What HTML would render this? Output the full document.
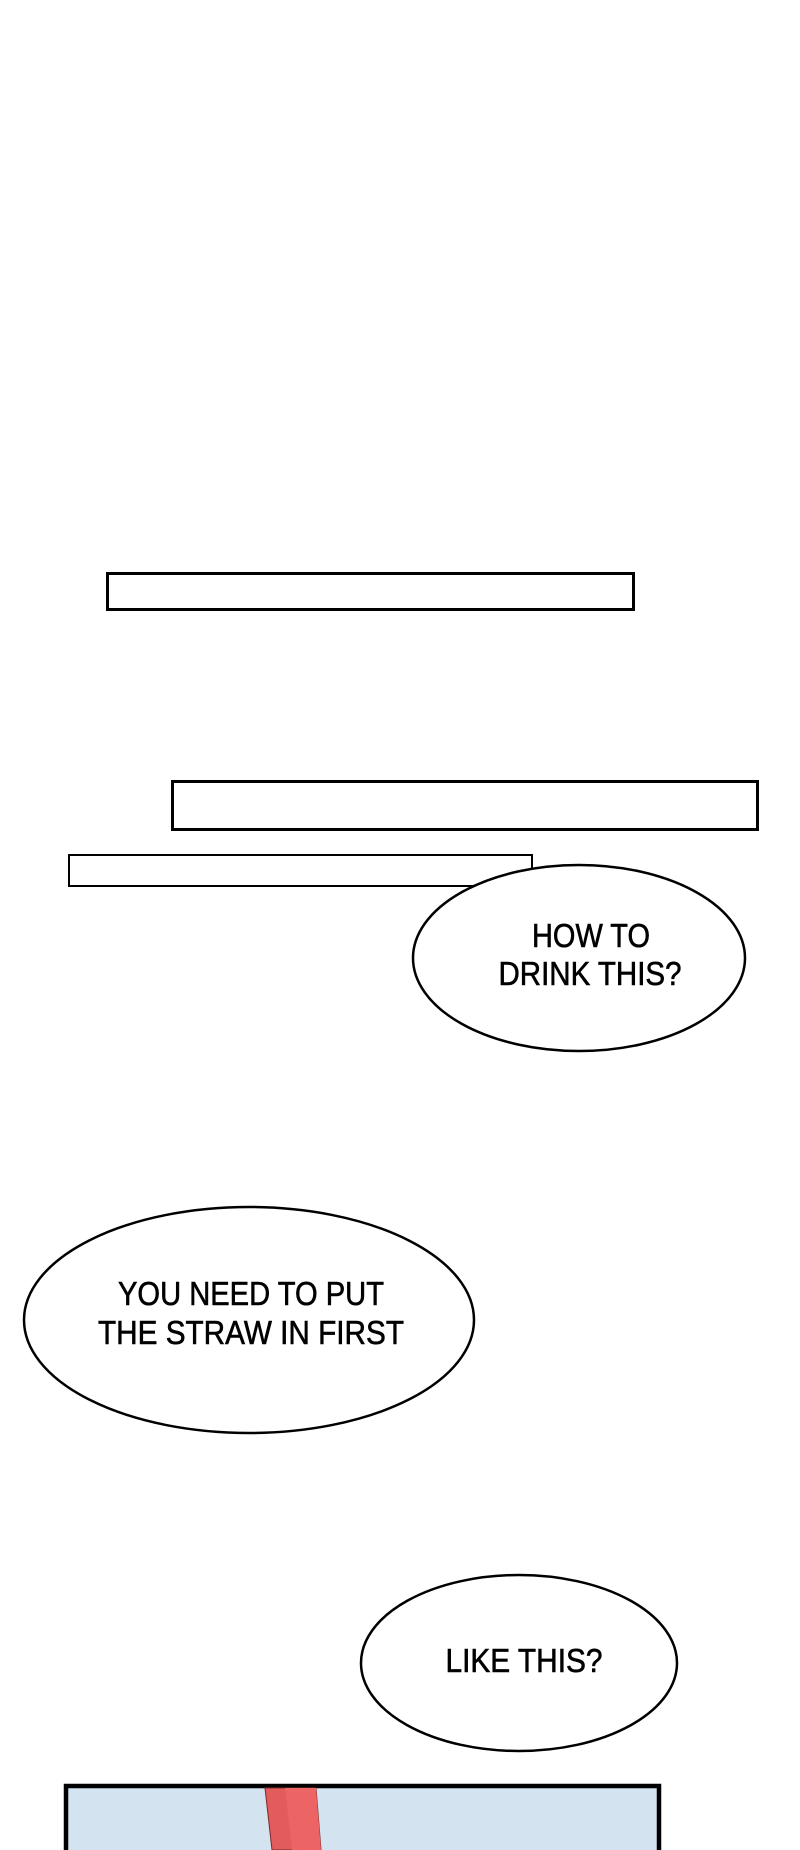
<!DOCTYPE html>
<html><head><meta charset="utf-8"><style>
html,body{margin:0;padding:0;background:#fff;}
svg{display:block;}
text{font-family:"Liberation Sans",sans-serif;fill:#000;stroke:#000;stroke-width:0.6;}
</style></head><body>
<svg width="800" height="1850" viewBox="0 0 800 1850" xmlns="http://www.w3.org/2000/svg">
<rect width="800" height="1850" fill="#fff"/>
<rect x="107.5" y="573.5" width="526" height="36" fill="#fff" stroke="#000" stroke-width="3"/>
<rect x="172.5" y="781.5" width="585" height="48" fill="#fff" stroke="#000" stroke-width="3"/>
<rect x="69" y="855" width="463" height="31" fill="#fff" stroke="#000" stroke-width="2"/>
<ellipse cx="579" cy="958" rx="166" ry="93" fill="#fff" stroke="#000" stroke-width="2.5"/>
<text x="591" y="947" font-size="33" text-anchor="middle" textLength="118" lengthAdjust="spacingAndGlyphs">HOW TO</text>
<text x="590" y="985" font-size="33" text-anchor="middle" textLength="183" lengthAdjust="spacingAndGlyphs">DRINK THIS?</text>
<ellipse cx="249" cy="1320" rx="225" ry="113" fill="#fff" stroke="#000" stroke-width="2.5"/>
<text x="251" y="1305" font-size="33" text-anchor="middle" textLength="266" lengthAdjust="spacingAndGlyphs">YOU NEED TO PUT</text>
<text x="251" y="1344" font-size="33" text-anchor="middle" textLength="306" lengthAdjust="spacingAndGlyphs">THE STRAW IN FIRST</text>
<ellipse cx="519" cy="1663" rx="158" ry="88" fill="#fff" stroke="#000" stroke-width="2.5"/>
<text x="524" y="1672" font-size="33" text-anchor="middle" textLength="157" lengthAdjust="spacingAndGlyphs">LIKE THIS?</text>
<rect x="66" y="1786" width="593" height="80" fill="#d3e3ef" stroke="#000" stroke-width="4.5"/>
<polygon points="265,1788 316,1788 321,1850 272,1850" fill="#e25c5c" stroke="#7a2a2a" stroke-width="1"/>
<polygon points="285,1788 316,1788 321,1850 292,1850" fill="#ec6464"/>
</svg>
</body></html>
